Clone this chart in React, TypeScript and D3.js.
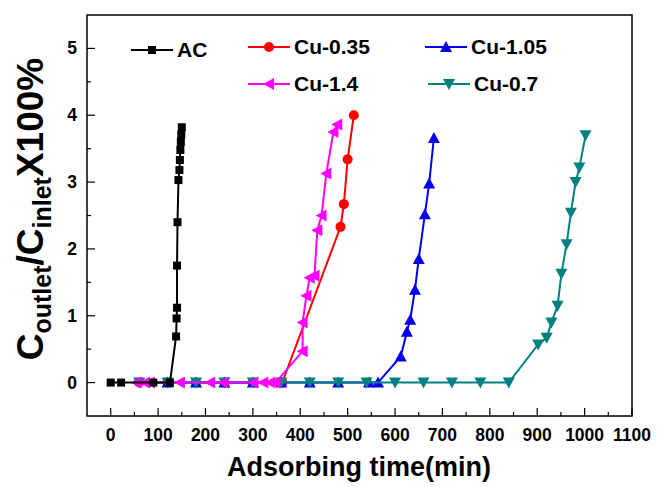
import React from "react";
import * as d3 from "d3";

// breakthrough curves, [time (min), Coutlet/Cinlet x100%]
const acData: [number, number][] = [
  [0, 0], [22, 0], [90, 0], [125, 0], [138, 0.69], [139, 0.96], [140, 1.12],
  [140, 1.75], [141, 2.4], [143, 3.03], [145, 3.18], [146, 3.33], [147, 3.48],
  [148, 3.6], [149, 3.71], [150, 3.82],
];
const cu035Data: [number, number][] = [
  [60, 0], [120, 0], [180, 0], [240, 0], [300, 0], [362, 0],
  [485, 2.33], [492, 2.67], [500, 3.34], [513, 4.0],
];
const cu105Data: [number, number][] = [
  [120, 0], [180, 0], [240, 0], [300, 0], [360, 0], [420, 0], [480, 0],
  [545, 0], [564, 0], [612, 0.39], [625, 0.76], [632, 0.94], [642, 1.39],
  [650, 1.85], [663, 2.52], [672, 2.98], [682, 3.66],
];
const cu14Data: [number, number][] = [
  [55, 0], [72, 0], [83, 0], [146, 0], [210, 0], [238, 0], [301, 0], [322, 0],
  [337, 0], [348, 0], [405, 0.47], [405, 0.9], [413, 1.3], [420, 1.57],
  [430, 1.6], [436, 2.28], [445, 2.5], [455, 3.13], [470, 3.75], [478, 3.86],
];
const cu07Data: [number, number][] = [
  [60, 0], [120, 0], [180, 0], [240, 0], [300, 0], [360, 0], [420, 0], [480, 0],
  [540, 0], [600, 0], [660, 0], [720, 0], [780, 0], [840, 0],
  [902, 0.57], [920, 0.67], [930, 0.9], [943, 1.15], [951, 1.63], [962, 2.07],
  [971, 2.54], [981, 3.0], [989, 3.22], [1002, 3.7],
];

const xTicks = [0, 100, 200, 300, 400, 500, 600, 700, 800, 900, 1000, 1100];
const yTicks = [0, 1, 2, 3, 4, 5];

const FONT = "'Liberation Sans', Arial, sans-serif";

type Shape = "square" | "circle" | "up" | "left" | "down";

const Marker = ({ x, y, shape, color }: { x: number; y: number; shape: Shape; color: string }) => {
  const s = 5;
  if (shape === "square") return <rect x={x - 4} y={y - 4} width={8} height={8} fill={color} />;
  if (shape === "circle") return <circle cx={x} cy={y} r={5} fill={color} />;
  let pts = "";
  if (shape === "up") pts = `${x},${y - s - 1} ${x - s - 1},${y + s} ${x + s + 1},${y + s}`;
  if (shape === "down") pts = `${x},${y + s + 1} ${x - s - 1},${y - s} ${x + s + 1},${y - s}`;
  if (shape === "left") pts = `${x - s - 1},${y} ${x + s},${y - s - 1} ${x + s},${y + s + 1}`;
  return <polygon points={pts} fill={color} />;
};

const series = [
  { name: "Cu-0.35", data: cu035Data, color: "#ff0000", shape: "circle" as Shape },
  { name: "Cu-1.05", data: cu105Data, color: "#0000ee", shape: "up" as Shape },
  { name: "Cu-0.7", data: cu07Data, color: "#008080", shape: "down" as Shape },
  { name: "Cu-1.4", data: cu14Data, color: "#ff00ff", shape: "left" as Shape },
  { name: "AC", data: acData, color: "#000000", shape: "square" as Shape },
];

const legend = [
  { name: "AC", color: "#000000", shape: "square" as Shape, x: 131, y: 50 },
  { name: "Cu-0.35", color: "#ff0000", shape: "circle" as Shape, x: 248, y: 47 },
  { name: "Cu-1.05", color: "#0000ee", shape: "up" as Shape, x: 425, y: 47 },
  { name: "Cu-1.4", color: "#ff00ff", shape: "left" as Shape, x: 248, y: 84 },
  { name: "Cu-0.7", color: "#008080", shape: "down" as Shape, x: 428, y: 84 },
];

export default function App() {
  const W = 657, H = 487;
  const left = 87, right = 632, top = 15, bottom = 416;

  const x = d3.scaleLinear().domain([-50, 1100]).range([left, right]);
  const y = d3.scaleLinear().domain([-0.5, 5.5]).range([bottom, top]);
  const line = d3.line<[number, number]>().x((d) => x(d[0])).y((d) => y(d[1]));

  const xMinor = d3.range(-50, 1101, 50).filter((v) => v % 100 !== 0 && v > -50 && v < 1100);
  const yMinor = d3.range(-0.5, 5.51, 1).filter((v) => v > -0.5 && v < 5.5);

  return (
    <svg width={W} height={H} style={{ position: "absolute", left: 0, top: 0, background: "#fff" }}>
      <rect width={W} height={H} fill="#fff" />
      {/* frame */}
      <rect x={left} y={top} width={right - left} height={bottom - top} fill="none" stroke="#000" strokeWidth={1.5} />

      {/* ticks */}
      {xTicks.map((t) => (
        <g key={"xt" + t}>
          <line x1={x(t)} x2={x(t)} y1={bottom} y2={bottom - 8} stroke="#000" strokeWidth={1.2} />
          <text x={x(t)} y={441} textAnchor="middle" fontFamily={FONT} fontWeight="bold" fontSize={17.5}>{t}</text>
        </g>
      ))}
      {xMinor.map((t) => (
        <line key={"xm" + t} x1={x(t)} x2={x(t)} y1={bottom} y2={bottom - 4} stroke="#000" strokeWidth={1.2} />
      ))}
      {yTicks.map((t) => (
        <g key={"yt" + t}>
          <line x1={left} x2={left + 8} y1={y(t)} y2={y(t)} stroke="#000" strokeWidth={1.2} />
          <text x={77} y={y(t) + 6} textAnchor="end" fontFamily={FONT} fontWeight="bold" fontSize={17.5}>{t}</text>
        </g>
      ))}
      {yMinor.map((t) => (
        <line key={"ym" + t} x1={left} x2={left + 4} y1={y(t)} y2={y(t)} stroke="#000" strokeWidth={1.2} />
      ))}

      {/* series */}
      {series.map((s) => (
        <g key={s.name}>
          <path d={line(s.data) || ""} fill="none" stroke={s.color} strokeWidth={2} />
          {s.data.map((d, i) => (
            <Marker key={i} x={x(d[0])} y={y(d[1])} shape={s.shape} color={s.color} />
          ))}
        </g>
      ))}

      {/* legend */}
      {legend.map((l) => (
        <g key={"lg" + l.name}>
          <line x1={l.x} x2={l.x + 42} y1={l.y} y2={l.y} stroke={l.color} strokeWidth={2} />
          <Marker x={l.x + 21} y={l.y} shape={l.shape} color={l.color} />
          <text x={l.x + 46} y={l.y + 7} fontFamily={FONT} fontWeight="bold" fontSize={21}>{l.name}</text>
        </g>
      ))}

      {/* axis titles */}
      <text x={359} y={476} textAnchor="middle" fontFamily={FONT} fontWeight="bold" fontSize={27}>Adsorbing time(min)</text>
      <text transform="translate(43,209) rotate(-90)" textAnchor="middle" fontFamily={FONT} fontWeight="bold" fontSize={37}>
        C<tspan fontSize={25} dy={8}>outlet</tspan>
        <tspan dy={-8}>/C</tspan>
        <tspan fontSize={25} dy={8}>inlet</tspan>
        <tspan dy={-8}>X100%</tspan>
      </text>
    </svg>
  );
}
